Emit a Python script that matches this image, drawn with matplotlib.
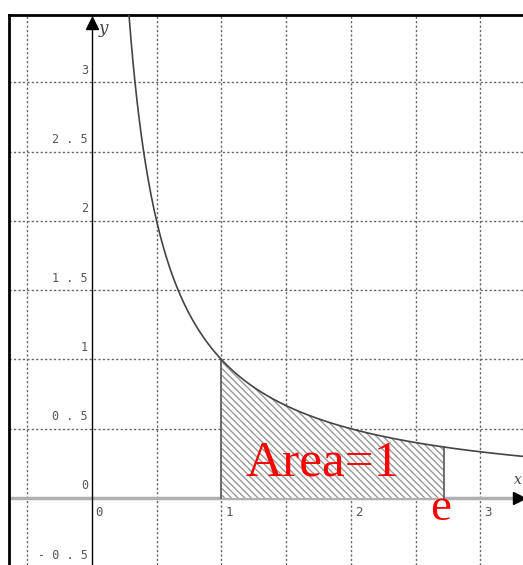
import numpy as np
import matplotlib
matplotlib.use("Agg")
import matplotlib.pyplot as plt

# curve y = 1/x, shaded area from 1 to e
curve_x = np.linspace(0.285, 3.4, 400)
curve_y = 1.0 / curve_x
area_x = np.linspace(1.0, np.e, 200)
area_y = 1.0 / area_x

x_ticks = [0, 1, 2, 3]
x_labels = ['0', '1', '2', '3']
y_ticks = [-0.5, 0, 0.5, 1, 1.5, 2, 2.5, 3]
y_labels = ['-0.5', '0', '0.5', '1', '1.5', '2', '2.5', '3']
grid_x = [-0.5, 0.5, 1, 1.5, 2, 2.5, 3]
grid_y = [-0.5, 0.5, 1, 1.5, 2, 2.5, 3]

W, H = 523, 565
fig = plt.figure(figsize=(W / 100, H / 100), dpi=100)
ax = fig.add_axes([9 / W, 0, 1 - 9 / W, 1 - 15 / H])
ax.set_xlim(-0.64, 3.33)
ax.set_ylim(-0.484, 3.487)
ax.set_xticks([])
ax.set_yticks([])
for s in ['right', 'bottom']:
    ax.spines[s].set_visible(False)
for s in ['left', 'top']:
    ax.spines[s].set_linewidth(2)
    ax.spines[s].set_color('black')

# dashed grid
for gx in grid_x:
    ax.axvline(gx, color='#666666', lw=1, ls=(0, (1.6, 1.6)), zorder=1)
for gy in grid_y:
    ax.axhline(gy, color='#666666', lw=1, ls=(0, (1.6, 1.6)), zorder=1)

# axes lines
ax.axhline(0, color='#b0b0b0', lw=2.5, zorder=2)
ax.axvline(0, color='black', lw=1, zorder=2)
ax.plot([3.30], [0], marker='>', color='black', ms=8, zorder=3, clip_on=False)
ax.plot([0], [3.43], marker='^', color='black', ms=8, zorder=3, clip_on=False)
ax.text(3.26, 0.1, 'x', style='italic', color='#444444', fontsize=10, family='DejaVu Serif')
ax.text(0.05, 3.36, 'y', style='italic', color='#444444', fontsize=12, family='DejaVu Serif')

# tick labels
for t, lab in zip(x_ticks, x_labels):
    ax.text(t + 0.03, -0.06, lab, ha='left', va='top', color='#555555',
            fontsize=9, family='DejaVu Sans Mono')
for t, lab in zip(y_ticks, y_labels):
    ax.text(-0.03, t + 0.04, ' '.join(lab) if len(lab) > 1 else lab, ha='right',
            va='bottom', color='#555555', fontsize=8.5, family='DejaVu Sans Mono')

# hatched region
plt.rcParams['hatch.linewidth'] = 1.0
plt.rcParams['hatch.color'] = '#999999'
ax.fill_between(area_x, 0, area_y, facecolor='white', edgecolor='#999999',
                hatch='\\\\\\\\\\', lw=0, zorder=2.5)
ax.plot([1, 1], [0, 1], color='#555555', lw=1.2, zorder=3)
ax.plot([np.e, np.e], [0, 1 / np.e], color='#555555', lw=1.2, zorder=3)

# curve
ax.plot(curve_x, curve_y, color='#444444', lw=1.2, zorder=4)

ax.text(1.78, 0.25, 'Area=1', color='red', fontsize=37, family='Liberation Serif',
        ha='center', va='center', zorder=5)
ax.text(2.69, -0.08, 'e', color='red', fontsize=34, family='Liberation Serif',
        ha='center', va='center', zorder=5)

fig.savefig('out.png', dpi=100)
